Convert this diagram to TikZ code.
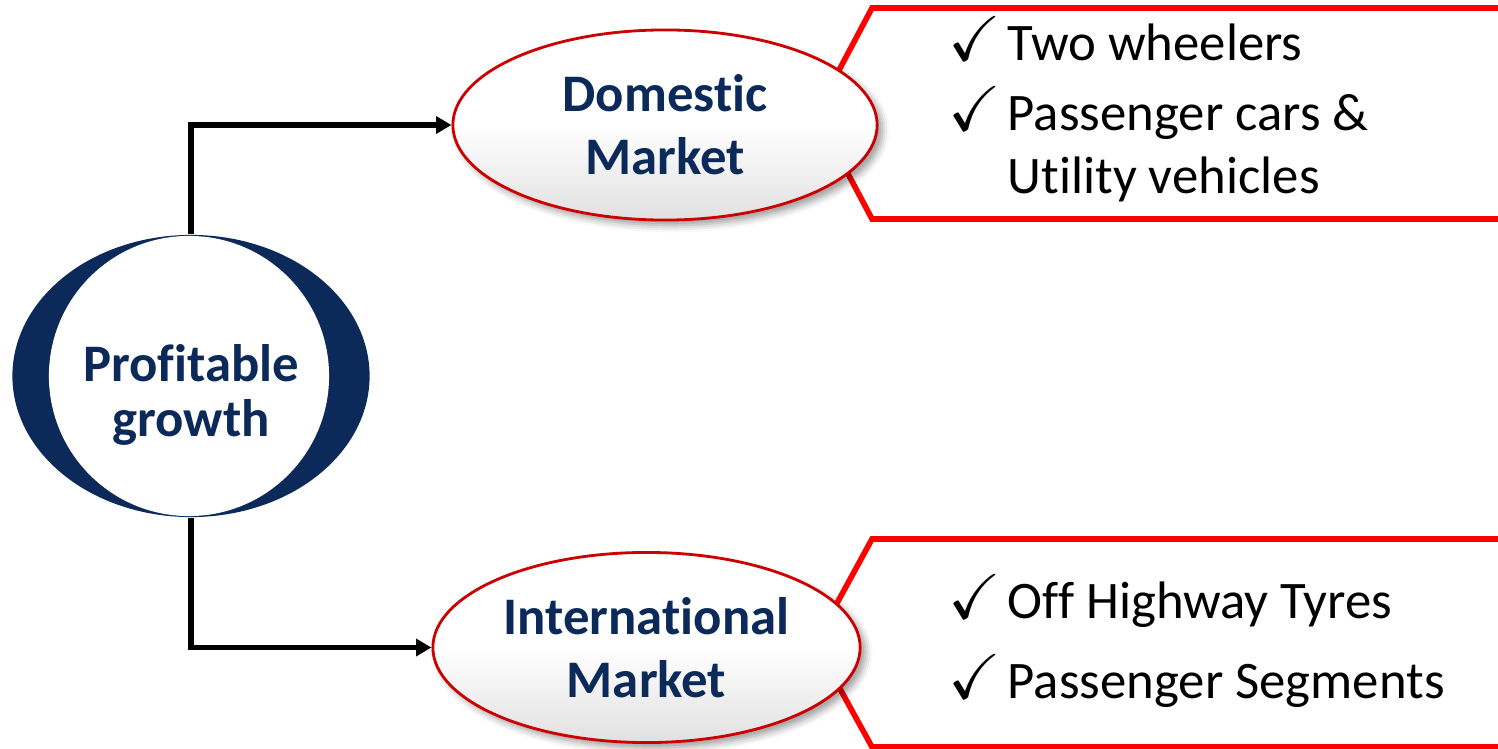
\documentclass[tikz,border=0pt]{standalone}
\usepackage{amssymb}
\usepackage{fontspec}
\setmainfont{Carlito}[RawFeature={-liga;-clig;-calt;-dlig}]
\usepackage{xcolor}
\usetikzlibrary{arrows.meta,shapes.geometric,shadows.blur}
\definecolor{navy}{HTML}{0B2A5A}
\definecolor{boxred}{HTML}{FF0000}
\newcommand{\tickmark}{\scalebox{1.2}{$\checkmark$}}
\tikzset{
	market/.style={
			ellipse, minimum width=4.24cm, minimum height=1.9cm, inner sep=0pt,
			draw=red!80!black, line width=0.8pt,
			top color=white, bottom color=black!12, middle color=white,
			blur shadow={shadow xshift=1.5pt, shadow yshift=-1.5pt, shadow blur radius=2pt},
			font=\fontsize{15}{18}\selectfont\bfseries, text=navy, align=center
		},
	item/.style={anchor=base west, inner sep=0pt, font=\fontsize{15}{18}\selectfont},
	flow/.style={line width=1.6pt, -{Triangle[length=4.4pt, width=4.8pt]}},
	bracket/.style={draw=boxred, line width=1.6pt}
}

\begin{document}
\begin{tikzpicture}[x=0.01cm, y=-0.01cm]
        \useasboundingbox (0,0) rectangle (1498,749);
        % red brackets behind the market ellipses
        \draw[bracket] (1500,8) -- (872,8) -- (816,113.5) -- (872,219) -- (1500,219);
        \draw[bracket] (1500,539) -- (872,539) -- (815,643.5) -- (872,747) -- (1500,747);
        % central node
        \node[ellipse, fill=navy, minimum width=3.57cm, minimum height=2.82cm, inner sep=0pt] (ring) at (191,376) {};
        \node[circle, fill=white, minimum size=2.8cm, inner sep=0pt] (disc) at (189,376) {};
        \node[font=\fontsize{15}{15.9}\selectfont\bfseries, text=navy, align=center] (growth) at (191,395) {Profitable\\growth};
        % markets
        \node[market] (domestic) at (665,125) {Domestic\\Market};
        \node[market, minimum width=4.27cm] (intl) at (646.5,647.5) {International\\Market};
        \draw[flow] (ring.north) |- (domestic.west);
        \draw[flow] (ring.south) |- (intl.west);
        % domestic segments
        \node[item] (tickA) at (948,61) {\tickmark};
        \node[item] (twowh) at (1007,61) {Two wheelers};
        \node[item] (tickB) at (948,131) {\tickmark};
        \node[item] (pcars) at (1007,131) {Passenger cars \&};
        \node[item] (uveh) at (1007,194) {Utility vehicles};
        % international segments
        \node[item] (tickC) at (948,618) {\tickmark};
        \node[item] (offhw) at (1007,618) {Off Highway Tyres};
        \node[item] (tickD) at (948,698) {\tickmark};
        \node[item] (pseg) at (1007,698) {Passenger Segments};
    \end{tikzpicture}
\end{document}
